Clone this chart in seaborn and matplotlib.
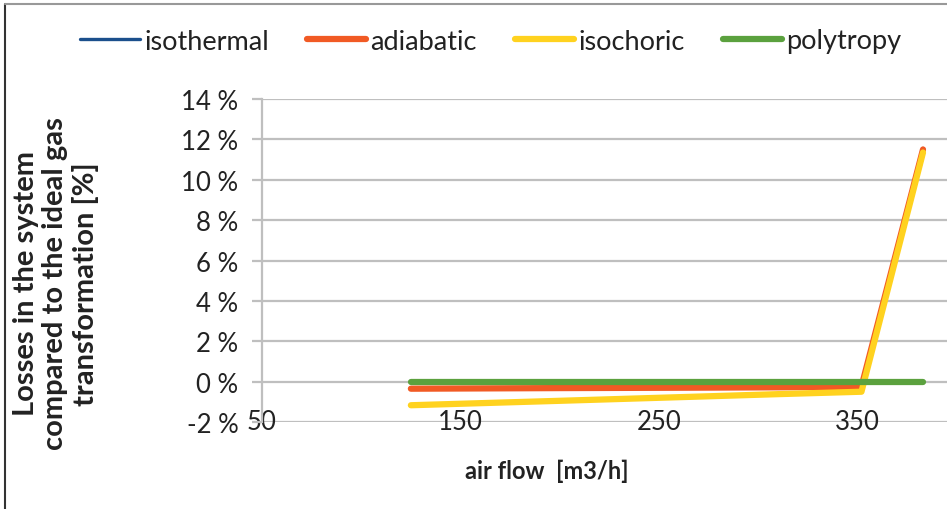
import matplotlib
matplotlib.use("Agg")
import matplotlib.pyplot as plt
from matplotlib.lines import Line2D
import seaborn as sns
import pandas as pd

# data
air_flow = [125, 200, 267, 310, 352, 383]
isothermal = [-0.35, -0.32, -0.30, -0.28, -0.25, 11.55]
adiabatic = [-0.35, -0.32, -0.30, -0.28, -0.25, 11.5]
isochoric = [-1.17, -0.95, -0.75, -0.62, -0.50, 11.35]
polytropy = [0.0, 0.0, 0.0, 0.0, 0.0, 0.0]
series_names = ["isothermal", "adiabatic", "isochoric", "polytropy"]
y_ticks = [-2, 0, 2, 4, 6, 8, 10, 12, 14]
x_ticks = [50, 150, 250, 350]

colors = {"isothermal": "#1B4F8C", "adiabatic": "#F15A24",
          "isochoric": "#FFD21F", "polytropy": "#5BA13E"}
widths = {"isothermal": 2.4, "adiabatic": 4.5, "isochoric": 4.5, "polytropy": 4.5}

sns.set_theme(style="white")
plt.rcParams["font.family"] = ["Lato", "DejaVu Sans"]

df = pd.DataFrame({
    "air flow": air_flow * 4,
    "value": isothermal + adiabatic + isochoric + polytropy,
    "series": sum([[n] * len(air_flow) for n in series_names], []),
})

fig = plt.figure(figsize=(9.47, 5.10), dpi=100)
ax = fig.add_axes([262 / 947, 87 / 510, 350 * 1.985 / 947, 323 / 510])

for n in series_names:
    sub = df[df["series"] == n]
    sns.lineplot(data=sub, x="air flow", y="value", ax=ax, color=colors[n],
                 linewidth=widths[n], solid_capstyle="round",
                 solid_joinstyle="round", legend=False, sort=False)

ax.set_xlim(50, 400)
ax.set_ylim(-2, 14)
ax.set_yticks(y_ticks)
ax.set_yticklabels([f"{v} %" for v in y_ticks], fontsize=18.5, color="#222222")
ax.set_xticks(x_ticks)
ax.set_xticklabels([str(v) for v in x_ticks], fontsize=18.5, color="#222222")
for lab in ax.get_xticklabels():
    lab.set_va("baseline")
for y in y_ticks:
    ax.axhline(y, color="#BFBFBF", linewidth=1.6, zorder=0)
ax.grid(False)
for s in ["top", "right", "bottom"]:
    ax.spines[s].set_visible(False)
ax.spines["left"].set_color("#BFBFBF")
ax.spines["left"].set_linewidth(1.6)
ax.tick_params(axis="y", length=7, width=1.6, color="#BFBFBF", pad=10, left=True)
ax.tick_params(axis="x", length=0, pad=5)

ax.set_ylabel("")
ax.set_xlabel("air flow  [m3/h]", fontsize=17, fontweight="bold", color="#222222")
ax.xaxis.set_label_coords((547 - 262) / (350 * 1.985), (423 - 471) / 323)
ax.xaxis.label.set_va("center")
fig.text(56 / 947, 1 - 284 / 510,
         "Losses in the system\ncompared to the ideal gas\ntransformation [%]",
         rotation=90, ha="center", va="center", fontsize=21, fontweight="bold",
         color="#222222", linespacing=1.15, multialignment="center")

handles = [Line2D([0], [0], color=colors[n], linewidth=widths[n],
                  solid_capstyle="round") for n in series_names]
fig.legend(handles, series_names, loc="center", bbox_to_anchor=(491 / 947, 1 - 42 / 510),
           ncol=4, frameon=False, fontsize=19.5, handlelength=2.2, handletextpad=0.15,
           columnspacing=1.4, labelcolor="#222222")

# outer chart border (cropped chart area)
fig.add_artist(Line2D([5 / 947, 5 / 947], [0, 1 - 5 / 510], color="#333333",
                      linewidth=1.5, transform=fig.transFigure))
fig.add_artist(Line2D([5 / 947, 1], [1 - 5 / 510, 1 - 5 / 510], color="#999999",
                      linewidth=1.5, transform=fig.transFigure))

fig.savefig("out.png", dpi=100)
